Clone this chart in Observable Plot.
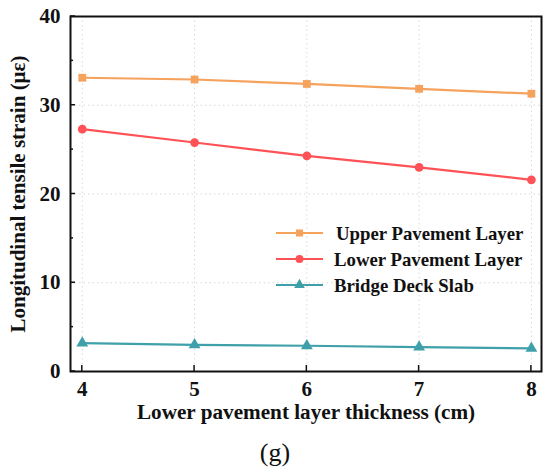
<!DOCTYPE html>
<html>
<head>
<meta charset="utf-8">
<script src="https://cdn.jsdelivr.net/npm/d3@7"></script>
<script src="https://cdn.jsdelivr.net/npm/@observablehq/plot@0.6"></script>
<style>
  html, body { margin: 0; padding: 0; background: #fff; }
  #chart { width: 550px; height: 476px; }
  svg text { font-family: "Liberation Serif", "Times New Roman", serif; }
</style>
</head>
<body>
<div id="chart"></div>
<script>
const thickness = [4, 5, 6, 7, 8];
const upperLayer = [33.1, 32.9, 32.4, 31.85, 31.3];
const lowerLayer = [27.3, 25.8, 24.3, 23.0, 21.6];
const deckSlab = [3.2, 3.0, 2.9, 2.75, 2.6];
const seriesNames = ["Upper Pavement Layer", "Lower Pavement Layer", "Bridge Deck Slab"];
const seriesColors = ["#F5A25D", "#FF5257", "#3FA0AA"];
const seriesSymbols = ["square", "circle", "triangle"];
const yMajorTicks = [0, 10, 20, 30, 40];
const yMinorTicks = [5, 15, 25, 35];
const xLabel = "Lower pavement layer thickness (cm)";
const yLabel = "Longitudinal tensile strain (με)";
const caption = "(g)";

const values = [upperLayer, lowerLayer, deckSlab];
const data = [];
values.forEach((arr, si) => arr.forEach((v, i) => data.push({x: thickness[i], y: v, s: seriesNames[si]})));

const font = '"Liberation Serif", "Times New Roman", serif';

const plot = Plot.plot({
  width: 550,
  height: 476,
  marginTop: 16,
  marginLeft: 70,
  marginRight: 9,
  marginBottom: 105,
  style: {fontFamily: font, background: "#fff"},
  x: {domain: [3.895, 8.09]},
  y: {domain: [0, 40]},
  color: {domain: seriesNames, range: seriesColors},
  symbol: {domain: seriesNames, range: seriesSymbols},
  marks: [
    Plot.gridY(yMajorTicks.slice(1, -1), {stroke: "#d8d8d8", strokeOpacity: 1, strokeDasharray: "1.5,3", strokeWidth: 1}),
    Plot.gridX(thickness, {stroke: "#d8d8d8", strokeOpacity: 1, strokeDasharray: "1.5,3", strokeWidth: 1}),
    Plot.line(data, {x: "x", y: "y", z: "s", stroke: "s", strokeWidth: 2.2}),
    Plot.dot(data, {x: "x", y: "y", fill: "s", symbol: "s", r: 4.4, stroke: "none"}),
    Plot.axisX(thickness, {tickSize: 0, tickPadding: 10, fontSize: 21, fontWeight: "bold", fill: "#111", tickFormat: d => String(d), label: null}),
    Plot.axisY(yMajorTicks, {tickSize: 0, tickPadding: 10, fontSize: 21, fontWeight: "bold", fill: "#111", label: null}),
    Plot.frame({stroke: "#111", strokeWidth: 2}),
    Plot.text([xLabel], {frameAnchor: "bottom", dy: 41, fontSize: 21.2, fontWeight: "bold", fill: "#111", lineAnchor: "middle"}),
    Plot.text([yLabel], {frameAnchor: "left", textAnchor: "middle", dx: -52, rotate: -90, fontSize: 21, fontWeight: "bold", fill: "#111", lineAnchor: "middle"}),
    Plot.text([caption], {frameAnchor: "bottom", dx: -31, dy: 81, fontSize: 26, fill: "#111", lineAnchor: "middle"})
  ]
});

document.getElementById("chart").appendChild(plot);

// inward ticks drawn through the scales
const svg = d3.select(plot);
const sx = plot.scale("x"), sy = plot.scale("y");
const gTicks = svg.append("g").attr("stroke", "#111").attr("stroke-width", 1.5);
const y0 = sy.apply(0), x0 = sx.apply(sx.domain[0]);
thickness.forEach(t => gTicks.append("line").attr("x1", sx.apply(t)).attr("x2", sx.apply(t)).attr("y1", y0).attr("y2", y0 - 6));
yMajorTicks.forEach(t => gTicks.append("line").attr("x1", x0).attr("x2", x0 + 5).attr("y1", sy.apply(t)).attr("y2", sy.apply(t)));
yMinorTicks.forEach(t => gTicks.append("line").attr("x1", x0).attr("x2", x0 + 3).attr("y1", sy.apply(t)).attr("y2", sy.apply(t)));

// legend
const legend = svg.append("g").attr("font-family", font).attr("font-weight", "bold").attr("font-size", 18.8).attr("text-anchor", "start");
const legY = [233, 259, 285];
const symMap = {square: d3.symbolSquare, circle: d3.symbolCircle, triangle: d3.symbolTriangle};
seriesNames.forEach((name, i) => {
  const y = legY[i];
  legend.append("line").attr("x1", 276).attr("x2", 323).attr("y1", y).attr("y2", y)
    .attr("stroke", seriesColors[i]).attr("stroke-width", 2.2);
  legend.append("path").attr("transform", `translate(299.5,${y})`)
    .attr("d", d3.symbol(symMap[seriesSymbols[i]], 50)())
    .attr("fill", seriesColors[i]);
  legend.append("text").attr("x", i === 0 ? 336 : 334).attr("y", y).attr("dy", "0.35em").attr("fill", "#111").text(name);
});
</script>
</body>
</html>
